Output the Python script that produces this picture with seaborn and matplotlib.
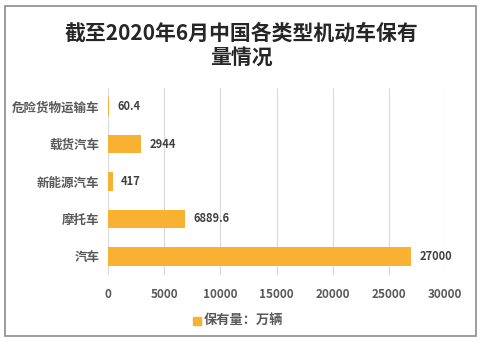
import matplotlib
matplotlib.use("Agg")
import matplotlib.pyplot as plt
import seaborn as sns
import pandas as pd
from matplotlib.patches import Rectangle

categories = ["危险货物运输车", "载货汽车", "新能源汽车", "摩托车", "汽车"]
values = [60.4, 2944, 417, 6889.6, 27000]
value_labels = ["60.4", "2944", "417", "6889.6", "27000"]
xticks = [0, 5000, 10000, 15000, 20000, 25000, 30000]
series_name = "保有量：万辆"
title = "截至2020年6月中国各类型机动车保有\n量情况"

sns.set_theme(style="white")
plt.rcParams['font.family'] = ['Noto Sans CJK SC', 'DejaVu Sans']

df = pd.DataFrame({"cat": categories, "val": values})
color = "#F8B133"
txt = "#595959"

fig = plt.figure(figsize=(4.82, 3.42), dpi=100)
ax = fig.add_axes([108/482, 1-275/342, (445-108)/482, (275-88)/342])
sns.barplot(data=df, x="val", y="cat", orient="h", color=color, ax=ax,
            width=0.5, saturation=1, edgecolor="none")
ax.set_xlim(0, 30000)
ax.set_xticks(xticks)
ax.set_xticklabels([str(t) for t in xticks], fontsize=8.5, fontweight="bold", color=txt)
ax.set_yticks(range(len(categories)))
ax.set_yticklabels(categories, fontsize=9, fontweight="bold", color=txt)
ax.tick_params(axis="both", length=0, pad=6)
ax.tick_params(axis="x", pad=9)
ax.set_xlabel("")
ax.set_ylabel("")
ax.grid(axis="x", color="#D9D9D9", linewidth=0.8)
ax.set_axisbelow(True)
for s in ax.spines.values():
    s.set_visible(False)
for i, (v, lab) in enumerate(zip(values, value_labels)):
    ax.annotate(lab, (v, i), xytext=(6, 0), textcoords="offset points",
                va="center", ha="left", fontsize=8, fontweight="bold", color="#404040")

fig.text(0.5, 1-45.5/342, title, ha="center", va="center", fontsize=15,
         fontweight="bold", color="#262626", linespacing=1.2)

fig.patches.append(Rectangle((193/482, 1-325/342), 8/482, 8/342, transform=fig.transFigure,
                             color=color, figure=fig))
fig.text(204/482, 1-320/342, series_name, ha="left", va="center", fontsize=9.5,
         fontweight="bold", color=txt)

fig.patches.append(Rectangle((5/482, 6/342), 471/482, 330/342, transform=fig.transFigure,
                             fill=False, edgecolor="#8C8C8C", linewidth=1.2, figure=fig))

fig.savefig("out.png", dpi=100)
